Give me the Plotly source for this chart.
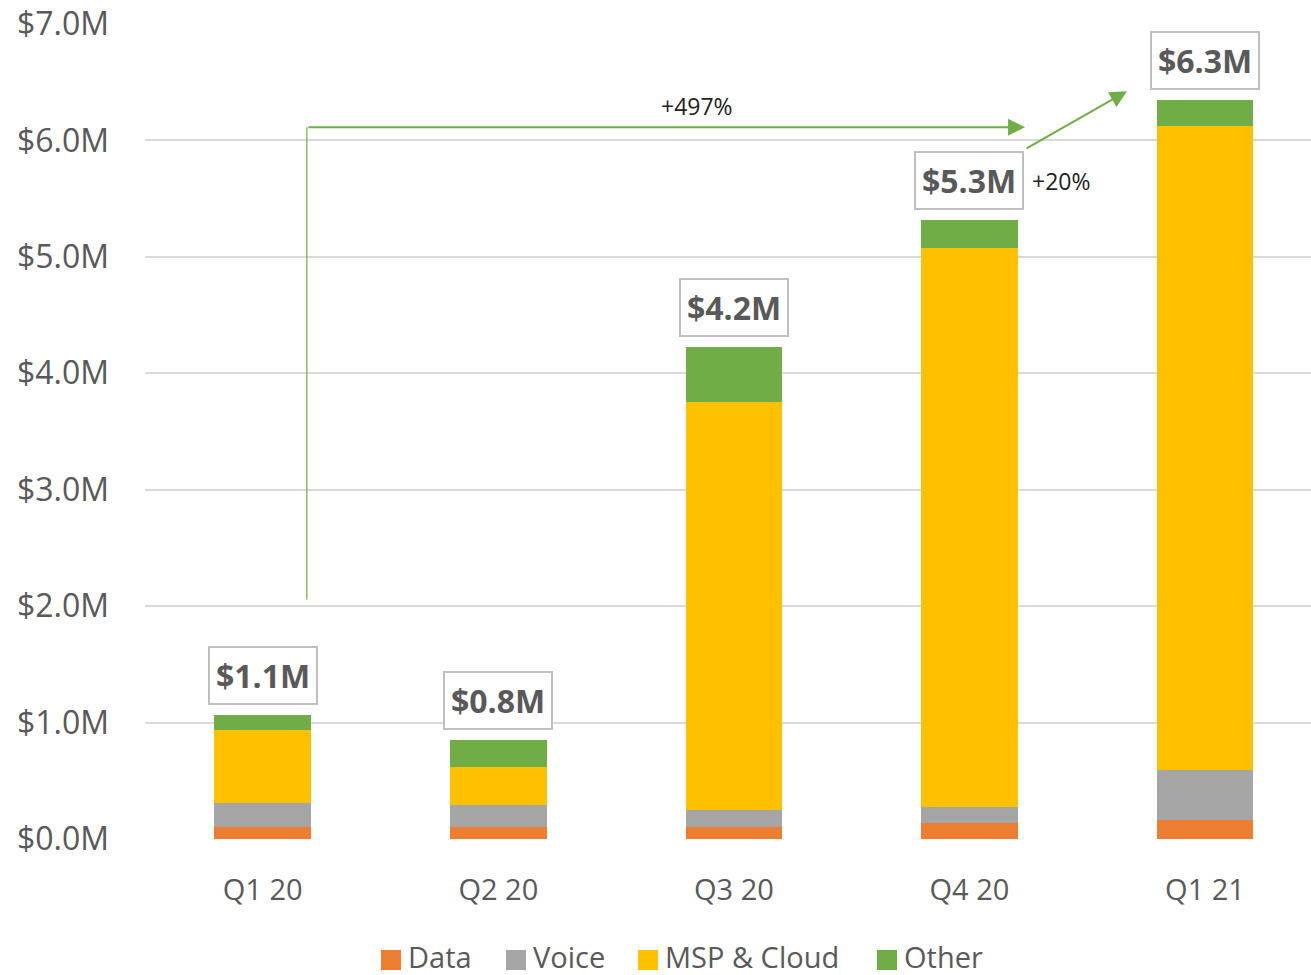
import plotly.graph_objects as go

quarters = ["Q1 20", "Q2 20", "Q3 20", "Q4 20", "Q1 21"]
data_vals = [0.106, 0.106, 0.106, 0.134, 0.166]
voice_vals = [0.206, 0.189, 0.141, 0.144, 0.424]
msp_vals = [0.625, 0.327, 3.506, 4.795, 5.530]
other_vals = [0.129, 0.229, 0.475, 0.241, 0.226]
total_labels = ["$1.1M", "$0.8M", "$4.2M", "$5.3M", "$6.3M"]
y_ticks = [0, 1, 2, 3, 4, 5, 6, 7]
y_tick_text = ["$0.0M", "$1.0M", "$2.0M", "$3.0M", "$4.0M", "$5.0M", "$6.0M", "$7.0M"]
growth_long = "+497%"
growth_short = "+20%"

series = [
    ("Data", data_vals, "#ED7D31"),
    ("Voice", voice_vals, "#A5A5A5"),
    ("MSP & Cloud", msp_vals, "#FFC000"),
    ("Other", other_vals, "#70AD47"),
]

FONT = "Open Sans"
GRAY = "#595959"
GREEN = "#70AD47"

W, H = 1311, 975
ML, MR, MT, MB = 145, 0, 24, 136
PW, PH = W - ML - MR, H - MT - MB


def px_x(px):
    return (px - ML) / PW


def px_y(py):
    return (H - MB - py) / PH


fig = go.Figure()
for name, vals, color in series:
    fig.add_trace(go.Bar(x=quarters, y=vals, name=name, showlegend=False,
                         marker=dict(color=color, line=dict(width=0))))

totals = [d + v + m + o for d, v, m, o in zip(data_vals, voice_vals, msp_vals, other_vals)]
for q, t, lab in zip(quarters, totals, total_labels):
    fig.add_annotation(x=q, y=t, text="<b>" + lab + "</b>", showarrow=False,
                       yanchor="bottom", yshift=10,
                       font=dict(family=FONT, size=32, color=GRAY),
                       bordercolor="#BFBFBF", borderwidth=2, borderpad=6,
                       bgcolor="white")

# growth bracket Q1 20 -> Q1 21
x_start = 0.187
x_end = 3.236
y_top = 6.113
fig.add_shape(type="line", xref="x", yref="y", x0=x_start, x1=x_start,
              y0=2.055, y1=y_top, line=dict(color=GREEN, width=1.2))
fig.add_annotation(x=x_end, y=y_top, ax=x_start, ay=y_top, xref="x", yref="y",
                   axref="x", ayref="y", showarrow=True, arrowhead=2,
                   arrowsize=1.7, arrowwidth=2, arrowcolor=GREEN, text="",
                   standoff=0, startstandoff=0)
fig.add_annotation(x=(x_start + x_end) / 2 + 0.13, y=y_top, text=growth_long,
                   showarrow=False, yanchor="middle", yshift=21,
                   font=dict(family=FONT, size=23, color="#222222"))

# Q4 -> Q1 21 arrow
fig.add_annotation(x=3.669, y=6.423, ax=3.236, ay=5.924, xref="x", yref="y",
                   axref="x", ayref="y", showarrow=True, arrowhead=2,
                   arrowsize=1.7, arrowwidth=2, arrowcolor=GREEN, text="",
                   standoff=0, startstandoff=0)
fig.add_annotation(x=3.236, y=5.924, text=growth_short, showarrow=False,
                   xanchor="left", yanchor="middle", xshift=5, yshift=-32,
                   font=dict(family=FONT, size=23, color="#222222"))

# legend (drawn manually to match square swatches)
legend_square_px = [381, 506, 638, 877]
legend_cy = 956
sq = 20
for (name, _, color), x0 in zip(series, legend_square_px):
    fig.add_shape(type="rect", xref="paper", yref="paper",
                  x0=px_x(x0), x1=px_x(x0 + sq),
                  y0=px_y(legend_cy + 4 + sq / 2), y1=px_y(legend_cy + 4 - sq / 2),
                  fillcolor=color, line=dict(width=0))
    fig.add_annotation(xref="paper", yref="paper", x=px_x(x0 + sq + 5),
                       y=px_y(legend_cy), text=name, showarrow=False,
                       xanchor="left", yanchor="middle",
                       font=dict(family=FONT, size=29, color=GRAY))

fig.update_layout(
    width=W, height=H,
    barmode="stack", bargap=0.59,
    plot_bgcolor="white", paper_bgcolor="white",
    margin=dict(l=ML, r=MR, t=MT, b=MB, autoexpand=False),
    font=dict(family=FONT, color=GRAY),
    showlegend=False,
    xaxis=dict(range=[-0.5, 4.45], showgrid=False, showline=False,
               zeroline=False, ticks="", automargin=False,
               tickfont=dict(family=FONT, size=29, color=GRAY),
               ticklabelstandoff=31),
    yaxis=dict(range=[0, 7], tickvals=y_ticks, ticktext=y_tick_text,
               showgrid=True, gridcolor="#D9D9D9", gridwidth=2,
               zeroline=False, showline=False, ticks="", automargin=False,
               tickfont=dict(family=FONT, size=32, color=GRAY),
               ticklabelstandoff=35),
)

fig.write_html(
    "out.html",
    config={"displayModeBar": False},
    post_script="document.body.style.margin='0';document.body.style.overflow='hidden';",
)
